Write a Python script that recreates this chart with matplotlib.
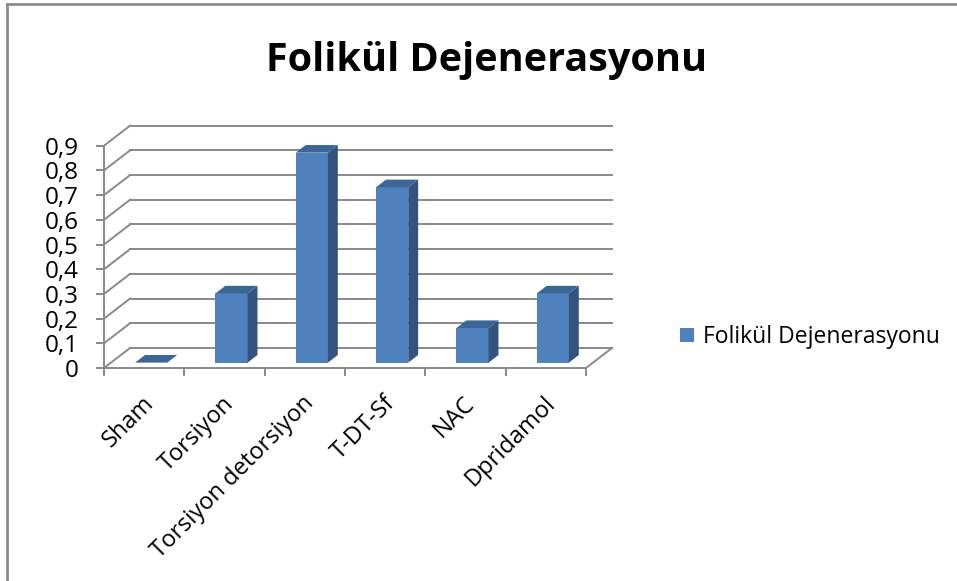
import numpy as np
import matplotlib
matplotlib.use("Agg")
import matplotlib.pyplot as plt
from matplotlib.patches import Polygon
from matplotlib.lines import Line2D
from matplotlib.transforms import ScaledTranslation

# Data
categories = ["Sham", "Torsiyon", "Torsiyon detorsiyon", "T-DT-Sf", "NAC", "Dpridamol"]
values = [0.0, 0.28, 0.85, 0.71, 0.14, 0.28]
y_ticks = [0.0, 0.1, 0.2, 0.3, 0.4, 0.5, 0.6, 0.7, 0.8, 0.9]
y_labels = ["0", "0,1", "0,2", "0,3", "0,4", "0,5", "0,6", "0,7", "0,8", "0,9"]
series_name = "Folikül Dejenerasyonu"
title = "Folikül Dejenerasyonu"

# Look of the fake 3D box
DX, DY = 0.324, 0.081      # wall depth in data units (x in categories, y in values)
T0, T1 = 0.27, 0.65        # bar front / back depth as fraction of wall depth
BAR_W = 0.40
GRID = "#898989"
FRONT = "#4F81BD"
SIDE = "#32547F"
TOP = "#3C6696"

plt.rcParams['font.family'] = ['Open Sans', 'DejaVu Sans']

W, H, DPI = 957, 581, 100
fig = plt.figure(figsize=(W / DPI, H / DPI), dpi=DPI)

# axes placed so that x=-0.5 lands at 104px and y=0 at 368px from top
px_cat = 80.33
px_val = 247.0
x0, x1 = -0.5, 5.85
y0, y1 = 0.0, 1.0
left = 104
bottom = 368
ax = fig.add_axes([left / W, (H - bottom) / H,
                   (x1 - x0) * px_cat / W, (y1 - y0) * px_val / H])
ax.set_xlim(x0, x1)
ax.set_ylim(y0, y1)
ax.patch.set_alpha(0)

n = len(categories)
xl, xr = -0.5, n - 0.5

# back wall gridlines + diagonals on the side wall
for v in y_ticks:
    ax.plot([xl + DX, xr + DX], [v + DY, v + DY], color=GRID, lw=1.4, zorder=1)
    ax.plot([xl, xl + DX], [v, v + DY], color=GRID, lw=1.4, zorder=1)
# right floor edge
ax.plot([xr, xr + DX], [0, DY], color=GRID, lw=1.4, zorder=1)

# spines = front axis lines
for s in ["top", "right"]:
    ax.spines[s].set_visible(False)
ax.spines["left"].set_bounds(0, y_ticks[-1])
ax.spines["bottom"].set_bounds(xl, xr)
for s in ["left", "bottom"]:
    ax.spines[s].set_color(GRID)
    ax.spines[s].set_linewidth(1.4)

# y ticks
ax.set_yticks(y_ticks)
ax.set_yticklabels(y_labels)
ax.tick_params(axis="y", direction="out", length=6, width=1.4, color=GRID,
               pad=12, labelsize=17.5)

# x: boundary ticks, labels on minor ticks at the centres
ax.set_xticks(np.arange(n + 1) - 0.5)
ax.set_xticklabels([])
ax.set_xticks(np.arange(n), minor=True)
ax.set_xticklabels(categories, minor=True)
ax.tick_params(axis="x", which="major", direction="out", length=6, width=1.4, color=GRID)
ax.tick_params(axis="x", which="minor", length=0, pad=23, labelsize=17)
shift = ScaledTranslation(6 / DPI, 0, fig.dpi_scale_trans)
for lab in ax.get_xticklabels(minor=True):
    lab.set_rotation(45)
    lab.set_ha("right")
    lab.set_va("center")
    lab.set_rotation_mode("anchor")
    lab.set_transform(lab.get_transform() + shift)

# bars: front face with ax.bar, side and top faces as polygons
xs = np.arange(n)
b0, b1 = T0 * DY, T1 * DY
ax.bar(xs + T0 * DX, values, width=BAR_W, bottom=b0, color=FRONT, zorder=3,
       label=series_name)
for i, v in zip(xs, values):
    fl = i - BAR_W / 2 + T0 * DX
    fr = i + BAR_W / 2 + T0 * DX
    bl = i - BAR_W / 2 + T1 * DX
    br = i + BAR_W / 2 + T1 * DX
    if v > 0:
        side = Polygon([(fr, b0), (fr, v + b0), (br, v + b1), (br, b1)],
                       closed=True, facecolor=SIDE, edgecolor="none", zorder=3)
        ax.add_patch(side)
    top = Polygon([(fl, v + b0), (fr, v + b0), (br, v + b1), (bl, v + b1)],
                  closed=True, facecolor=TOP, edgecolor="none", zorder=4)
    ax.add_patch(top)

# title and legend
fig.text(487 / W, 1 - 60 / H, title, ha="center", va="center",
         fontsize=28.5, fontweight="bold")
fig.legend(loc="center left", bbox_to_anchor=(680 / W, 1 - 337 / H),
           frameon=False, fontsize=16.5, borderpad=0, borderaxespad=0,
           handlelength=0.6, handleheight=0.6, handletextpad=0.4)

# chart frame (top and left edges visible)
fig.add_artist(Line2D([7 / W, 7 / W], [0, 1 - 4 / H], transform=fig.transFigure,
                      color="#8C8C8C", lw=2))
fig.add_artist(Line2D([7 / W, 1], [1 - 4 / H, 1 - 4 / H], transform=fig.transFigure,
                      color="#8C8C8C", lw=2))

fig.savefig("out.png", dpi=DPI)
